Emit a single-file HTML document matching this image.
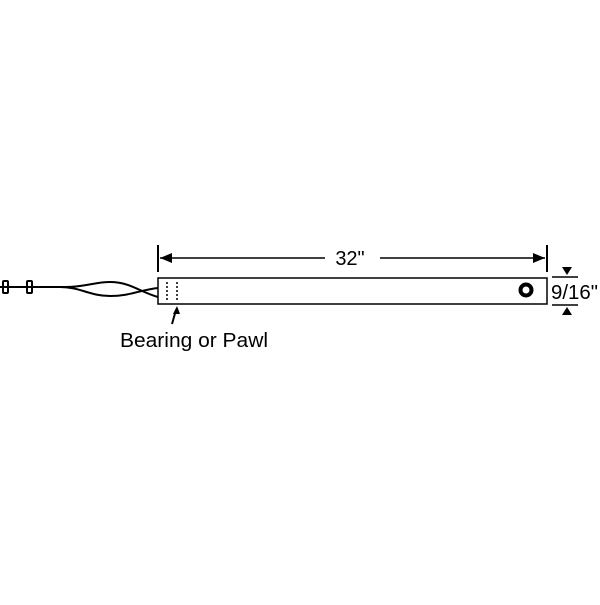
<!DOCTYPE html>
<html><head><style>body{margin:0;background:#fff}</style></head><body>
<svg width="600" height="600" xmlns="http://www.w3.org/2000/svg" font-family="Liberation Sans, sans-serif">
<rect width="600" height="600" fill="#fff"/>
<g stroke="#000" fill="none" stroke-width="1.5">
<rect x="158" y="278" width="389" height="26"/>
<line x1="158" y1="245" x2="158" y2="272" stroke-width="2"/>
<line x1="547" y1="245" x2="547" y2="272" stroke-width="2"/>
<line x1="160" y1="258" x2="325" y2="258"/>
<line x1="380" y1="258" x2="545" y2="258"/>
<line x1="167" y1="282" x2="167" y2="302" stroke-dasharray="2,2"/>
<line x1="177" y1="282" x2="177" y2="302" stroke-dasharray="2,2"/>
<line x1="552" y1="277" x2="578" y2="277"/>
<line x1="552" y1="305" x2="578" y2="305"/>
<line x1="172" y1="324" x2="176" y2="310" stroke-width="2"/>
<path d="M0 287 L60 287 C80 287 90 296 110 296 C130 296 140 290 158 288" stroke-width="2"/>
<path d="M40 287 L65 287 C85 287 95 282 110 282 C130 282 140 292 158 297" stroke-width="2"/>
<rect x="3" y="281" width="5" height="12" rx="1" stroke-width="2"/>
<rect x="27" y="281" width="5" height="12" rx="1" stroke-width="2"/>
</g>
<polygon points="160,258 172,253 172,263" fill="#000"/>
<polygon points="545,258 533,253 533,263" fill="#000"/>
<polygon points="562,267 572,267 567,275" fill="#000"/>
<polygon points="562,315 567,307 572,315" fill="#000"/>
<polygon points="177,306 173,314 180,314" fill="#000"/>
<circle cx="526" cy="290" r="5.5" fill="none" stroke="#000" stroke-width="4"/>
<text x="350" y="265" font-size="20" text-anchor="middle">32"</text>
<text x="551" y="299" font-size="20" textLength="47" lengthAdjust="spacingAndGlyphs">9/16"</text>
<text x="120" y="347" font-size="20" textLength="148" lengthAdjust="spacingAndGlyphs">Bearing or Pawl</text>
</svg>
</body></html>
